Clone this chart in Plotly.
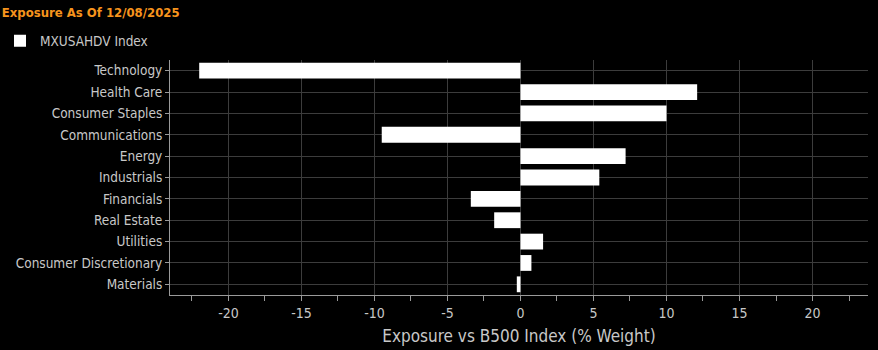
import plotly.graph_objects as go

# Sector exposure of MXUSAHDV relative to the B500 index (% weight)
sectors = ["Technology", "Health Care", "Consumer Staples", "Communications", "Energy",
           "Industrials", "Financials", "Real Estate", "Utilities",
           "Consumer Discretionary", "Materials"]
exposure = [-22.0, 12.1, 10.0, -9.5, 7.2, 5.4, -3.4, -1.8, 1.55, 0.75, -0.25]

x_ticks = [-20, -15, -10, -5, 0, 5, 10, 15, 20]

FONT = "DejaVu Sans Condensed, sans-serif"
TXT = "#c8c8c8"
GRID = "#3c3c3c"
W, H = 878, 350
ML, MR = 170, 10

fig = go.Figure(go.Bar(
    x=exposure, y=sectors, orientation="h", width=0.74,
    marker=dict(color="#ffffff", line=dict(width=0)),
    name="MXUSAHDV Index", showlegend=True,
))

fig.update_layout(
    width=W, height=H,
    paper_bgcolor="#000000", plot_bgcolor="#000000",
    margin=dict(l=ML, r=MR, t=60, b=55),
    font=dict(family=FONT, size=13, color=TXT),
    title=dict(text="Exposure As Of 12/08/2025", x=0.002, xref="container",
               y=0.978, yref="container", yanchor="top",
               font=dict(family=FONT, size=13, color="#f7941d", weight="bold")),
    legend=dict(x=(-5 - ML) / (W - ML - MR), xref="paper", xanchor="left",
                y=0.883, yref="container", yanchor="middle",
                bgcolor="rgba(0,0,0,0)", font=dict(size=13.5, color=TXT),
                itemwidth=30, tracegroupgap=0),
    xaxis=dict(range=[-24.0, 23.8], tickvals=x_ticks, ticktext=[str(v) for v in x_ticks],
               showgrid=True, gridcolor=GRID, gridwidth=1, zeroline=False,
               showline=True, linecolor="#9a9a9a", linewidth=1,
               ticks="outside", ticklen=5, tickcolor="#9a9a9a",
               minor=dict(dtick=2.5, tick0=0, ticks="outside", ticklen=5, tickcolor="#9a9a9a", showgrid=False),
               title=dict(text="Exposure vs B500 Index (% Weight)", font=dict(size=17, color=TXT), standoff=10),
               tickfont=dict(size=14, color=TXT), automargin=False),
    yaxis=dict(autorange="reversed", showgrid=True, gridcolor=GRID, gridwidth=1,
               showline=True, linecolor="#9a9a9a", linewidth=1,
               ticks="outside", ticklen=4, tickcolor="#9a9a9a",
               tickfont=dict(size=13.5, color=TXT), automargin=False),
)

fig.write_html("out.html")
